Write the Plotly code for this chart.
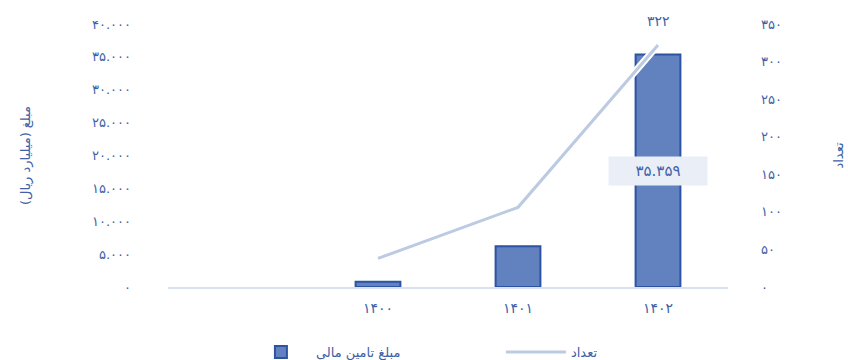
import plotly.graph_objects as go

# Financing amount (billion rials) and number of cases per year
years = [1400, 1401, 1402]
amount = [800, 6200, 35359]
count = [38, 106, 322]

amount_ticks = [0, 5000, 10000, 15000, 20000, 25000, 30000, 35000, 40000]
count_ticks = [0, 50, 100, 150, 200, 250, 300, 350]

FA_DIGITS = str.maketrans("0123456789", "۰۱۲۳۴۵۶۷۸۹")


def fa(n, sep="."):
    s = f"{n:,}".replace(",", sep)
    return s.translate(FA_DIGITS)


year_labels = [str(y).translate(FA_DIGITS) for y in years]

BLUE_TXT = "#4061a6"
BAR_FILL = "#6181bf"
BAR_EDGE = "#2d53a2"
LINE_CLR = "#bccae2"
FONT = "DejaVu Sans"

fig = go.Figure()

fig.add_trace(go.Bar(
    x=year_labels, y=amount, name="مبلغ تامین مالی",
    width=0.32,
    marker=dict(color=BAR_FILL, line=dict(color=BAR_EDGE, width=2)),
    yaxis="y",
))

# white halo under the count line
fig.add_trace(go.Scatter(
    x=year_labels, y=count, mode="lines", showlegend=False,
    line=dict(color="white", width=7), hoverinfo="skip", yaxis="y2",
))
fig.add_trace(go.Scatter(
    x=year_labels, y=count, mode="lines", name="تعداد",
    line=dict(color=LINE_CLR, width=3), yaxis="y2",
))

# value labels for the last year
fig.add_annotation(
    x=year_labels[-1], y=amount[-1] / 2, yref="y", text=fa(amount[-1]),
    showarrow=False, bgcolor="#e9eef7", borderpad=5,
    font=dict(family=FONT, size=15, color=BLUE_TXT),
    width=88,
)
fig.add_annotation(
    x=year_labels[-1], y=count[-1], yref="y2", text=fa(count[-1]),
    showarrow=False, yshift=24,
    font=dict(family=FONT, size=14, color=BLUE_TXT),
)

fig.update_layout(
    width=848, height=360,
    margin=dict(l=168, r=120, t=24, b=73, autoexpand=False),
    paper_bgcolor="white", plot_bgcolor="white",
    font=dict(family=FONT, size=12, color=BLUE_TXT),
    showlegend=True,
    legend=dict(
        orientation="h", xref="container", yref="container",
        x=0.29, xanchor="left", y=0.022, yanchor="middle",
        font=dict(family=FONT, size=13, color=BLUE_TXT),
        itemwidth=60, traceorder="normal",
        entrywidth=180, entrywidthmode="pixels",
    ),
    xaxis=dict(
        type="category", range=[-1.5, 2.5], automargin=False,
        showgrid=False, showline=True, linecolor="#d9e0ee", linewidth=1.5,
        ticks="", ticklabelstandoff=7,
        tickfont=dict(family=FONT, size=14, color=BLUE_TXT),
        zeroline=False,
    ),
    yaxis=dict(
        range=[0, 40000], tickvals=amount_ticks, automargin=False,
        ticktext=[fa(v) for v in amount_ticks],
        showgrid=False, zeroline=False, showline=False, ticks="",
        ticklabelstandoff=36,
        tickfont=dict(family=FONT, size=13, color=BLUE_TXT),
        title=dict(text="مبلغ (میلیارد ریال)", standoff=58,
                   font=dict(family=FONT, size=13, color=BLUE_TXT)),
    ),
    yaxis2=dict(
        range=[0, 350], tickvals=count_ticks, automargin=False,
        ticktext=[fa(v) for v in count_ticks],
        overlaying="y", side="right",
        showgrid=False, zeroline=False, showline=False, ticks="",
        ticklabelstandoff=32,
        tickfont=dict(family=FONT, size=13, color=BLUE_TXT),
        title=dict(text="تعداد", standoff=52,
                   font=dict(family=FONT, size=13, color=BLUE_TXT)),
    ),
)

fig.write_html("out.html")
